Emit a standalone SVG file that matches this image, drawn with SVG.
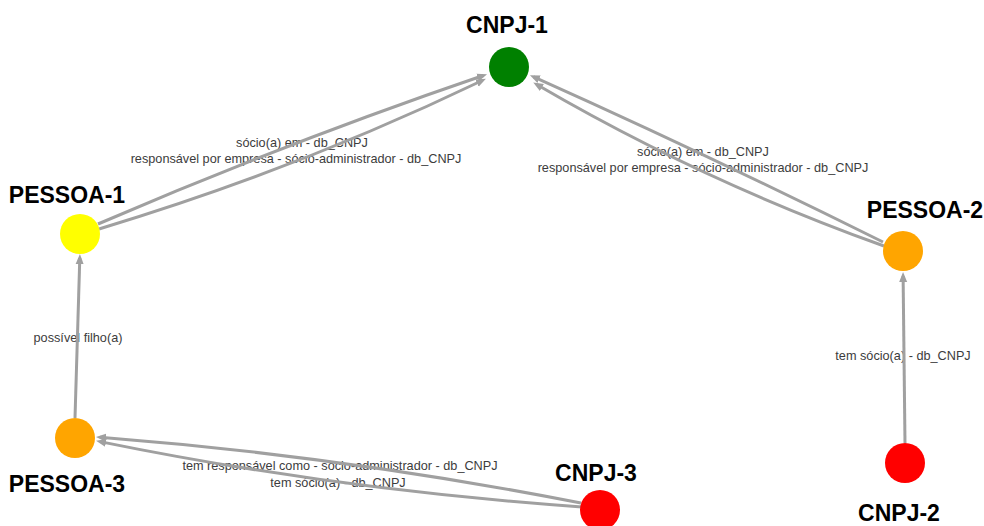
<svg xmlns="http://www.w3.org/2000/svg" width="984" height="526" viewBox="0 0 984 526">
  <style>
    .node-label { font-family: "Liberation Sans", Arial, sans-serif; font-weight: bold; font-size: 23px; fill: #000; text-anchor: middle; }
    .edge-label { font-family: "Liberation Sans", Arial, sans-serif; font-size: 12.7px; fill: #3c3c3c; text-anchor: middle; }
    .edge { fill: none; stroke: #a0a0a0; stroke-width: 3; marker-end: url(#arrow); }
  </style>
  <defs>
    <marker id="arrow" markerUnits="userSpaceOnUse" viewBox="0 0 10 10" refX="6" refY="5" markerWidth="10" markerHeight="10" orient="auto">
      <path d="M0,1 L10,5 L0,9 Z" fill="#a0a0a0"/>
    </marker>
  </defs>
  <rect width="984" height="526" fill="#ffffff"/>

  <g id="edge-labels">
    <text class="edge-label" x="302" y="147">sócio(a) em - db_CNPJ</text>
    <text class="edge-label" x="296" y="163">responsável por empresa - sócio-administrador - db_CNPJ</text>
    <text class="edge-label" x="703" y="156">sócio(a) em - db_CNPJ</text>
    <text class="edge-label" x="703" y="172">responsável por empresa - sócio-administrador - db_CNPJ</text>
    <text class="edge-label" x="78" y="342">possível filho(a)</text>
    <text class="edge-label" x="903" y="360">tem sócio(a) - db_CNPJ</text>
    <text class="edge-label" x="340" y="470">tem responsável como - sócio-administrador - db_CNPJ</text>
    <text class="edge-label" x="338" y="487">tem sócio(a) - db_CNPJ</text>
  </g>

  <g id="connectors">
    <path class="edge" d="M98,224 Q289.6,141.5 483.3,75.5"/>
    <path class="edge" d="M99,229 Q298.3,169 482.3,80.5"/>
    <path class="edge" d="M883,242 Q706,154 533.6,76.8"/>
    <path class="edge" d="M884,246 Q700,180 536.7,84.5"/>
    <path class="edge" d="M581,503 Q340.7,456 100,437.2"/>
    <path class="edge" d="M582,507 Q336.8,489.9 100,441.6"/>
    <path class="edge" d="M75,418 L79.8,258"/>
    <path class="edge" d="M905,443 L903.1,276"/>
  </g>

  <g id="node-cnpj-1">
    <circle cx="509" cy="67" r="20" fill="#008000"/>
    <text class="node-label" x="507" y="33">CNPJ-1</text>
  </g>
  <g id="node-pessoa-1">
    <circle cx="80" cy="234" r="20" fill="#ffff00"/>
    <text class="node-label" x="67" y="203">PESSOA-1</text>
  </g>
  <g id="node-pessoa-2">
    <circle cx="903" cy="251" r="20" fill="#ffa500"/>
    <text class="node-label" x="925" y="218">PESSOA-2</text>
  </g>
  <g id="node-pessoa-3">
    <circle cx="75" cy="438" r="20" fill="#ffa500"/>
    <text class="node-label" x="67" y="492">PESSOA-3</text>
  </g>
  <g id="node-cnpj-2">
    <circle cx="905" cy="463" r="20" fill="#ff0000"/>
    <text class="node-label" x="899" y="521">CNPJ-2</text>
  </g>
  <g id="node-cnpj-3">
    <circle cx="600" cy="510" r="20" fill="#ff0000"/>
    <text class="node-label" x="596" y="481">CNPJ-3</text>
  </g>
</svg>
